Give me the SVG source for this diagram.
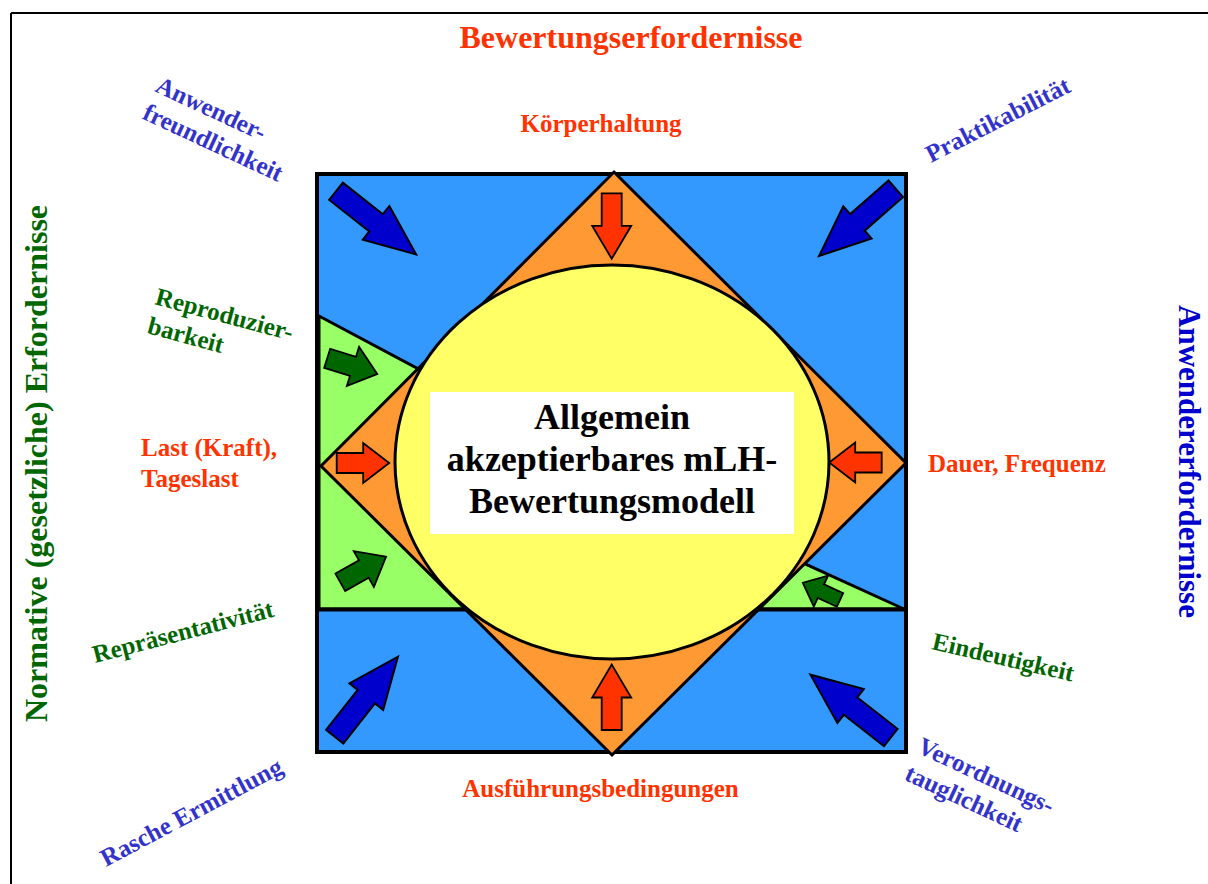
<svg xmlns="http://www.w3.org/2000/svg" width="1208" height="884" viewBox="0 0 1208 884">
  <style>
    text { font-family: "Liberation Serif", "Times New Roman", serif; font-weight: bold; }
    .title { font-size: 32px; fill: #FF3300; }
    .red { font-size: 25px; fill: #FF3300; }
    .blue { font-size: 25px; fill: #3333CC; }
    .green { font-size: 25px; fill: #006600; }
    .vgreen { font-size: 32px; fill: #006600; }
    .vblue { font-size: 31px; fill: #0000CC; }
    .center { font-size: 36px; fill: #000000; }
    .blk { stroke: #000; stroke-linejoin: miter; }
    .barrow { fill: #0000CC; stroke: #000; stroke-width: 2; }
    .rarrow { fill: #FF3300; stroke: #000; stroke-width: 1.8; }
    .garrow { fill: #006600; stroke: #000; stroke-width: 1.8; }
  </style>
  <defs>
    <path id="arrowBlue" d="M0,-11 H51 V-21.5 L102,0 L51,21.5 V11 H0 Z"/>
    <path id="arrowRedV" d="M0,-10 H32.5 V-19.5 L65.5,0 L32.5,19.5 V10 H0 Z"/>
    <path id="arrowRedH" d="M0,-10 H26.5 V-20 L52.5,0 L26.5,20 V10 H0 Z"/>
    <path id="arrowGreen" d="M0,-10 H27 V-20.5 L52.5,0 L27,20.5 V10 H0 Z"/>
    <path id="arrowGreenS" d="M0,-7.5 H21 V-17 L41,0 L21,17 V7.5 H0 Z"/>
  </defs>

  <rect x="0" y="0" width="1208" height="884" fill="#FFFFFF"/>

  <!-- outer frame -->
  <g id="frame" fill="none" stroke="#000" stroke-width="2">
    <line x1="11" y1="13" x2="1208" y2="13"/>
    <line x1="11" y1="13" x2="11" y2="884"/>
  </g>

  <!-- blue square -->
  <g id="square">
    <rect x="317" y="174" width="589" height="578" fill="#3399FF" stroke="#000" stroke-width="4"/>
  </g>

  <!-- green triangles -->
  <g id="green-left">
    <polygon points="319,316 520,423 520,609 319,609" fill="#99FF66" class="blk" stroke-width="3"/>
  </g>
  <g id="green-right">
    <polygon points="700,516 904,609 700,609" fill="#99FF66" class="blk" stroke-width="3"/>
  </g>
  <g id="divider">
    <line x1="317" y1="609.5" x2="906" y2="609.5" stroke="#000" stroke-width="4"/>
  </g>

  <!-- orange diamond -->
  <g id="diamond">
    <polygon points="614,172 906,463 612,755 321,466" fill="#FF9933" class="blk" stroke-width="3"/>
  </g>

  <!-- ellipse -->
  <g id="model">
    <ellipse cx="612" cy="462" rx="217" ry="197" fill="#FFFF66" stroke="#000" stroke-width="3"/>
    <rect x="430" y="392" width="364" height="142" fill="#FFFFFF"/>
    <text class="center" x="612" y="429" text-anchor="middle">Allgemein</text>
    <text class="center" x="612" y="471" text-anchor="middle">akzeptierbares mLH-</text>
    <text class="center" x="612" y="513" text-anchor="middle">Bewertungsmodell</text>
  </g>

  <!-- arrows -->
  <g id="connectors">
    <use href="#arrowBlue" class="barrow" transform="translate(336,191.3) rotate(38.2)"/>
    <use href="#arrowBlue" class="barrow" transform="translate(895.8,188.8) rotate(138.8)"/>
    <use href="#arrowBlue" class="barrow" transform="translate(334.7,736.7) rotate(-51.7)"/>
    <use href="#arrowBlue" class="barrow" transform="translate(890.8,737.5) rotate(218)"/>
    <use href="#arrowRedV" class="rarrow" transform="translate(611.7,193.3) rotate(90)"/>
    <use href="#arrowRedV" class="rarrow" transform="translate(611.7,730) rotate(-90)"/>
    <use href="#arrowRedH" class="rarrow" transform="translate(336.7,463)"/>
    <use href="#arrowRedH" class="rarrow" transform="translate(881.7,462.5) rotate(180)"/>
    <use href="#arrowGreen" class="garrow" transform="translate(327.2,358.3) rotate(17.4)"/>
    <use href="#arrowGreen" class="garrow" transform="translate(340.3,582.3) rotate(-29.3)"/>
    <use href="#arrowGreenS" class="garrow" transform="translate(840,600) rotate(204.9)"/>
  </g>

  <!-- labels -->
  <g id="title">
    <text class="title" x="631" y="48" text-anchor="middle">Bewertungserfordernisse</text>
  </g>
  <g id="label-koerperhaltung">
    <text class="red" x="601" y="132" text-anchor="middle">Körperhaltung</text>
  </g>
  <g id="label-ausfuehrung">
    <text class="red" x="600.5" y="797" text-anchor="middle">Ausführungsbedingungen</text>
  </g>
  <g id="label-last">
    <text class="red" x="141" y="456">Last (Kraft),</text>
    <text class="red" x="141" y="487">Tageslast</text>
  </g>
  <g id="label-dauer">
    <text class="red" x="928" y="472">Dauer, Frequenz</text>
  </g>
  <g id="label-normativ">
    <text class="vgreen" transform="translate(47,463.5) rotate(-90)" text-anchor="middle">Normative (gesetzliche) Erfordernisse</text>
  </g>
  <g id="label-anwendererf">
    <text class="vblue" transform="translate(1179,461.5) rotate(90)" text-anchor="middle">Anwendererfordernisse</text>
  </g>
  <g id="label-anwenderfreundlichkeit" transform="translate(154,91) rotate(25)">
    <text class="blue" x="0" y="0">Anwender-</text>
    <text class="blue" x="0" y="30">freundlichkeit</text>
  </g>
  <g id="label-praktikabilitaet" transform="translate(931,163) rotate(-27)">
    <text class="blue" x="0" y="0">Praktikabilität</text>
  </g>
  <g id="label-rasche" transform="translate(106,867) rotate(-28)">
    <text class="blue" x="0" y="0">Rasche Ermittlung</text>
  </g>
  <g id="label-verordnung" transform="translate(916,752) rotate(25)">
    <text class="blue" x="0" y="0">Verordnungs-</text>
    <text class="blue" x="0" y="30">tauglichkeit</text>
  </g>
  <g id="label-reproduzierbarkeit" transform="translate(154,304) rotate(15)">
    <text class="green" x="0" y="0">Reproduzier-</text>
    <text class="green" x="0" y="30">barkeit</text>
  </g>
  <g id="label-repraesentativitaet" transform="translate(95,663) rotate(-14.5)">
    <text class="green" x="0" y="0">Repräsentativität</text>
  </g>
  <g id="label-eindeutigkeit" transform="translate(931,649) rotate(13)">
    <text class="green" x="0" y="0">Eindeutigkeit</text>
  </g>
</svg>
